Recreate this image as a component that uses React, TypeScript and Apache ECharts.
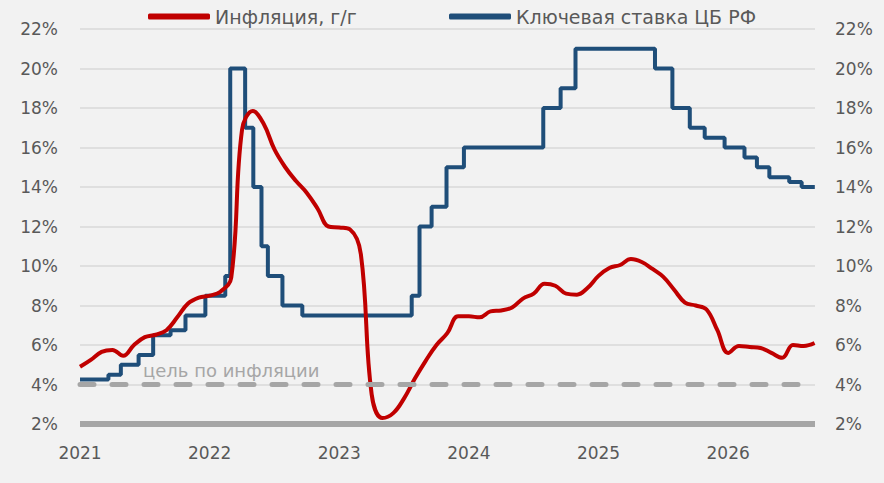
import React, { useEffect, useRef } from "react";
import * as echarts from "echarts";

// Inflation y/y, monthly, first point at 2021-01 (start of axis)
const inflationStartYear = 2021;
const inflationValues = [
  4.9, 5.25, 5.65, 5.75, 5.45, 6.0, 6.4, 6.52, 6.75, 7.4, 8.1, 8.4,
  8.5, 8.7, 9.4, 16.9, 17.85, 17.2, 15.9, 15.0, 14.3, 13.7, 12.9, 12.0,
  11.95, 11.85, 10.6, 3.5, 2.3, 2.55, 3.3, 4.3, 5.2, 6.0, 6.6, 7.45,
  7.45, 7.4, 7.7, 7.75, 7.9, 8.35, 8.6, 9.1, 9.0, 8.6, 8.55, 8.9,
  9.5, 9.9, 10.05, 10.35, 10.2, 9.85, 9.45, 8.8, 8.15, 8.0, 7.8, 6.75,
  5.6, 5.95, 5.9, 5.85, 5.6, 5.35, 6.0, 5.95, 6.1,
];

// Key rate of the Bank of Russia: [effective date, rate]
const keyRateDates = [
  "2021-01-01", "2021-03-22", "2021-04-26", "2021-06-15", "2021-07-26",
  "2021-09-13", "2021-10-25", "2021-12-20", "2022-02-14", "2022-02-28",
  "2022-04-11", "2022-05-04", "2022-05-27", "2022-06-14", "2022-07-25",
  "2022-09-19", "2023-07-24", "2023-08-15", "2023-09-18", "2023-10-30",
  "2023-12-18", "2024-07-29", "2024-09-16", "2024-10-28", "2025-06-09",
  "2025-07-28", "2025-09-15", "2025-10-27", "2025-12-22", "2026-02-16",
  "2026-03-23", "2026-04-27", "2026-06-22", "2026-07-27", "2026-09-02",
];
const keyRateValues = [
  4.25, 4.5, 5.0, 5.5, 6.5,
  6.75, 7.5, 8.5, 9.5, 20,
  17, 14, 11, 9.5, 8,
  7.5, 8.5, 12, 13, 15,
  16, 18, 19, 21, 20,
  18, 17, 16.5, 16, 15.5,
  15, 14.5, 14.25, 14, 14,
];

const inflationTarget = 4;
const xMin = 2021;
const xMax = 2026.67;
const yMin = 2;
const yMax = 22;

const SER_INFL = "Инфляция, г/г";
const SER_RATE = "Ключевая ставка ЦБ РФ";
const TARGET_LABEL = "цель по инфляции";

function toYear(d: string): number {
  const [y, m, day] = d.split("-").map(Number);
  const start = Date.UTC(y, 0, 1);
  const end = Date.UTC(y + 1, 0, 1);
  const t = Date.UTC(y, m - 1, day);
  return y + (t - start) / (end - start);
}

const FONT = "'DejaVu Sans', sans-serif";
const TEXT = "#595959";

export default function App() {
  const ref = useRef<HTMLDivElement>(null);
  useEffect(() => {
    document.body.style.margin = "0";
    if (!ref.current) return;
    const chart = echarts.init(ref.current, undefined, { renderer: "svg" });

    const inflData = inflationValues.map((v, i) => [inflationStartYear + i / 12, v]);
    const rateData = keyRateDates.map((d, i) => [toYear(d), keyRateValues[i]]);

    const legendBase = {
      top: 7,
      padding: 0,
      icon: "roundRect",
      itemWidth: 62,
      itemHeight: 6,
      textStyle: { fontSize: 19, color: TEXT, fontFamily: FONT },
      selectedMode: false,
    };

    const yAxisBase = {
      type: "value",
      min: yMin,
      max: yMax,
      interval: 2,
      axisLine: { show: false },
      axisTick: { show: false },
      axisLabel: {
        formatter: "{value}%",
        fontSize: 17,
        color: TEXT,
        fontFamily: FONT,
      },
    };

    chart.setOption({
      animation: false,
      backgroundColor: "#F2F2F2",
      textStyle: { fontFamily: FONT },
      grid: { left: 80, right: 69, top: 29, bottom: 59, containLabel: false },
      legend: [
        { ...legendBase, left: 148, data: [SER_INFL] },
        { ...legendBase, left: 449, data: [SER_RATE] },
      ],
      xAxis: {
        type: "value",
        min: xMin,
        max: xMax,
        interval: 1,
        splitLine: { show: false },
        axisTick: { show: false },
        axisLine: {
          show: true,
          onZero: false,
          lineStyle: { color: "#A6A6A6", width: 6, cap: "butt" },
        },
        axisLabel: {
          fontSize: 17,
          color: TEXT,
          fontFamily: FONT,
          margin: 20,
          formatter: (v: number) =>
            Math.abs(v - Math.round(v)) < 1e-6 ? String(Math.round(v)) : "",
        },
      },
      yAxis: [
        {
          ...yAxisBase,
          position: "left",
          axisLabel: { ...yAxisBase.axisLabel, margin: 22 },
          splitLine: { show: true, lineStyle: { color: "#D9D9D9", width: 1.5 } },
        },
        {
          ...yAxisBase,
          position: "right",
          axisLabel: { ...yAxisBase.axisLabel, margin: 20 },
          splitLine: { show: false },
        },
      ],
      graphic: [
        {
          type: "text",
          left: 143,
          top: 361,
          style: {
            text: TARGET_LABEL,
            fontSize: 18,
            fill: "#A6A6A6",
            fontFamily: FONT,
          },
          silent: true,
        },
      ],
      series: [
        {
          name: SER_RATE,
          type: "line",
          step: "end",
          data: rateData,
          showSymbol: false,
          symbol: "none",
          color: "#1F4E79",
          lineStyle: { color: "#1F4E79", width: 4 },
          markLine: {
            silent: true,
            symbol: "none",
            label: { show: false },
            lineStyle: {
              color: "#A6A6A6",
              width: 5,
              type: [14, 18],
              cap: "round",
            },
            data: [{ yAxis: inflationTarget }],
          },
          z: 2,
        },
        {
          name: SER_INFL,
          type: "line",
          smooth: 0.4,
          data: inflData,
          showSymbol: false,
          symbol: "none",
          color: "#C00000",
          lineStyle: { color: "#C00000", width: 4 },
          z: 3,
        },
      ],
    });
    return () => chart.dispose();
  }, []);
  return <div ref={ref} style={{ width: 884, height: 483 }} />;
}
